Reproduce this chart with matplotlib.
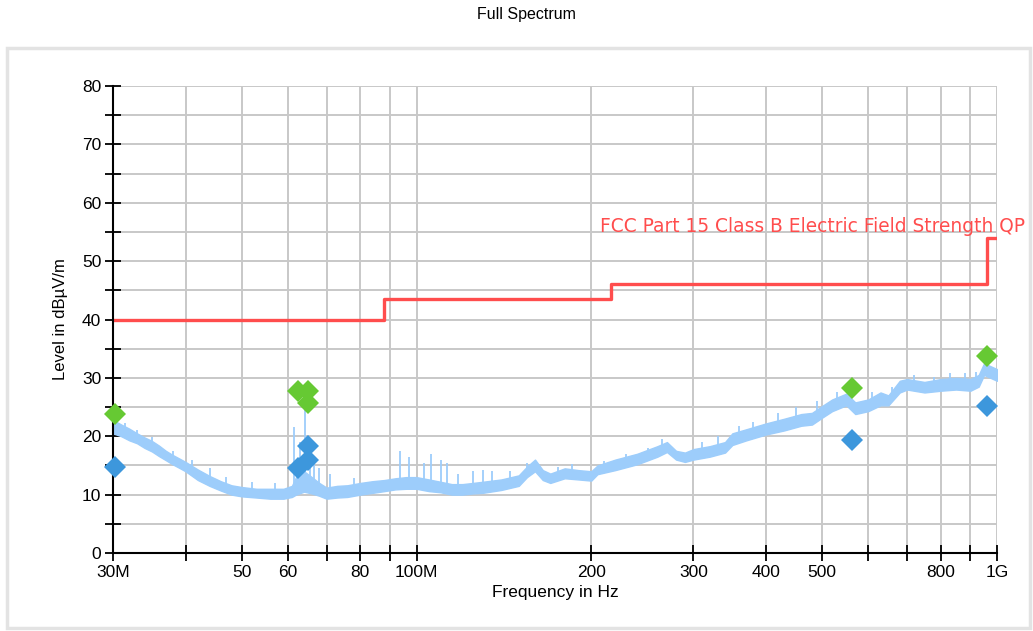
import matplotlib
matplotlib.use("Agg")
import matplotlib.pyplot as plt
from matplotlib.patches import Rectangle
from matplotlib.ticker import FixedLocator, FixedFormatter, NullFormatter

# ---------------- data ----------------
# measured spectrum envelope (MHz, lower edge, upper edge in dBuV/m)
trace_mhz = [30, 31, 32, 33, 34, 35, 36, 37, 38, 39, 40, 42, 44, 46, 48, 50, 53, 56, 59,
             61, 62, 64, 66, 68, 70, 73, 76, 80, 84, 88, 92, 96, 100, 105, 110, 115, 120,
             125, 130, 140, 150, 155, 160, 165, 170, 180, 190, 200, 205, 220, 240, 260,
             270, 280, 290, 300, 320, 340, 350, 370, 400, 430, 460, 480, 500, 520, 550,
             570, 600, 630, 650, 680, 700, 750, 800, 850, 900, 930, 950, 1000]
trace_low = [20.5, 20.0, 19.3, 18.8, 18.0, 17.4, 16.6, 15.9, 15.2, 14.6, 14.0, 12.5, 11.5,
             10.7, 10.0, 9.7, 9.5, 9.3, 9.3, 9.6, 10.0, 10.5, 10.2, 9.8, 9.3, 9.5, 9.6,
             10.0, 10.3, 10.6, 10.9, 11.0, 11.0, 10.6, 10.4, 10.0, 10.0, 10.2, 10.3, 10.8,
             11.5, 13.0, 14.0, 12.5, 12.0, 12.8, 12.6, 12.4, 13.5, 14.2, 15.2, 16.5, 17.3,
             16.0, 15.6, 16.0, 16.5, 17.2, 18.5, 19.3, 20.3, 21.0, 21.8, 22.0, 23.2, 24.3,
             25.3, 23.8, 24.3, 25.3, 25.3, 27.5, 28.0, 27.5, 27.8, 28.0, 27.8, 28.5, 30.5,
             29.5]
trace_high = [22.8, 22.0, 21.3, 20.5, 19.8, 19.2, 18.4, 17.5, 16.8, 16.2, 15.6, 14.3, 13.2,
              12.3, 11.6, 11.3, 11.0, 11.0, 11.0, 11.5, 13.0, 14.0, 13.0, 12.0, 11.2, 11.5,
              11.6, 12.0, 12.3, 12.5, 12.8, 13.0, 13.0, 12.6, 12.2, 11.8, 11.8, 12.0, 12.2,
              12.6, 13.3, 14.8, 16.0, 14.2, 13.6, 14.5, 14.2, 14.0, 15.0, 16.0, 17.0, 18.3,
              19.0, 17.5, 17.2, 17.8, 18.3, 19.0, 20.5, 21.2, 22.2, 23.0, 23.8, 24.0, 25.2,
              26.3, 27.3, 25.8, 26.3, 27.5, 27.0, 29.5, 29.8, 29.3, 29.8, 30.0, 29.8, 30.5,
              32.5, 31.5]
# narrow spikes of the trace (MHz, base, top)
spike_mhz = [31.5, 33, 35, 38, 41, 44, 47, 52, 57, 61.5, 63, 64.2, 65.5, 66.5, 68, 71, 78,
             93.5, 97, 103, 106, 110, 113, 118, 125, 130, 135, 145, 155, 175, 185, 210,
             230, 250, 265, 310, 330, 360, 380, 420, 450, 490, 530, 610, 660, 720, 780,
             830, 880, 920]
spike_base = [21.0, 20.0, 18.0, 16.0, 14.0, 12.5, 11.0, 10.5, 10.5, 10.5, 11.0, 11.0, 11.0,
              11.0, 10.5, 10.0, 11.0, 11.5, 11.5, 11.5, 11.0, 11.0, 10.5, 11.0, 11.0, 11.0,
              11.0, 12.0, 13.5, 13.0, 13.5, 14.0, 15.0, 16.0, 17.5, 17.0, 18.0, 19.5,
              20.5, 22.0, 23.0, 24.0, 25.5, 25.5, 26.0, 28.5, 28.5, 29.0, 29.0, 29.5]
spike_top = [22.3, 21.0, 19.8, 17.5, 16.0, 14.5, 13.0, 12.2, 12.0, 21.5, 19.0, 25.5, 17.5,
             16.5, 14.5, 13.5, 12.8, 17.5, 16.5, 15.5, 17.0, 16.0, 15.5, 13.5, 14.0, 14.3,
             14.0, 14.0, 15.5, 14.8, 15.3, 15.8, 17.0, 18.0, 19.5, 19.0, 20.0, 21.8, 22.5,
             24.0, 25.0, 26.0, 27.5, 27.5, 28.5, 30.5, 30.2, 30.8, 30.8, 31.0]

# limit line (MHz, dBuV/m)
limit_mhz = [30, 88, 216, 960, 1000]
limit_level = [40, 43.5, 46, 54, 54]
limit_name = "FCC Part 15 Class B Electric Field Strength QP"

# final measurement results
qp_mhz = [30.2, 62.5, 64.9, 64.9, 562, 961]
qp_level = [23.8, 27.7, 27.7, 25.7, 28.3, 33.8]
av_mhz = [30.2, 62.5, 64.9, 64.9, 562, 961]
av_level = [14.8, 14.6, 15.9, 18.4, 19.4, 25.2]

xtick_mhz = [30, 40, 50, 60, 70, 80, 90, 100, 200, 300, 400, 500, 600, 700, 800, 900, 1000]
xtick_labels = ["30M", "", "50", "60", "", "80", "", "100M", "200", "300", "400", "500",
                "", "", "800", "", "1G"]
ytick_major = [0, 10, 20, 30, 40, 50, 60, 70, 80]
ytick_minor = [5, 15, 25, 35, 45, 55, 65, 75]

title = "Full Spectrum"
xlabel = "Frequency in Hz"
ylabel = "Level in dBµV/m"

# ---------------- style ----------------
plt.rcParams["font.family"] = ["Liberation Sans", "DejaVu Sans"]

M = 1e6
fig = plt.figure(figsize=(10.33, 6.31), dpi=100)
fig.patches.append(Rectangle((7 / 1033, 1 - 628 / 631), (1030 - 7) / 1033, (628 - 48) / 631,
                             transform=fig.transFigure, fill=False, edgecolor="#e3e3e3",
                             linewidth=2.5, zorder=0))
fig.text(526 / 1033, 1 - 15 / 631, title, ha="center", va="center", fontsize=11.5)

ax = fig.add_axes([113 / 1033, 1 - 553 / 631, (997 - 113) / 1033, (553 - 86) / 631])
ax.set_xscale("log")
ax.set_xlim(30 * M, 1000 * M)
ax.set_ylim(0, 80)

trace_c = "#9dcdfb"
ax.fill_between([f * M for f in trace_mhz], trace_low, trace_high, color=trace_c,
                linewidth=1.0, edgecolor=trace_c, zorder=3)
ax.vlines([f * M for f in spike_mhz], spike_base, spike_top, color=trace_c, linewidth=1.3,
          zorder=3)

ax.step([f * M for f in limit_mhz], limit_level, where="post", color="#ff4d4d",
        linewidth=2.4, zorder=4)
ax.annotate(limit_name, xy=(1000 * M, 54), xytext=(28, 2), textcoords="offset pixels",
            ha="right", va="bottom", color="#ff4d4d", fontsize=13.4,
            family=["DejaVu Sans"], annotation_clip=False)

ax.plot([f * M for f in qp_mhz], qp_level, linestyle="none", marker="D", markersize=11.5,
        color="#66c933", markeredgewidth=0, zorder=6, clip_on=False)
ax.plot([f * M for f in av_mhz], av_level, linestyle="none", marker="D", markersize=11.5,
        color="#3d97dc", markeredgewidth=0, zorder=6, clip_on=False)

ax.xaxis.set_major_locator(FixedLocator([f * M for f in xtick_mhz]))
ax.xaxis.set_major_formatter(FixedFormatter(xtick_labels))
ax.xaxis.set_minor_locator(FixedLocator([]))
ax.xaxis.set_minor_formatter(NullFormatter())
ax.yaxis.set_major_locator(FixedLocator(ytick_major))
ax.yaxis.set_minor_locator(FixedLocator(ytick_minor))

ax.grid(True, which="both", color="#c8c8c8", linewidth=1.4, zorder=1)
ax.set_axisbelow(True)
for s in ("top", "right"):
    ax.spines[s].set_visible(False)
for s in ("left", "bottom"):
    ax.spines[s].set_linewidth(1.5)
    ax.spines[s].set_zorder(5)
ax.tick_params(which="major", direction="inout", length=11, width=1.3, labelsize=12.5,
               pad=3)
ax.tick_params(which="minor", direction="inout", length=11, width=1.3)

ax.set_xlabel(xlabel, fontsize=12.5, labelpad=4)
ax.set_ylabel(ylabel, fontsize=12, labelpad=10)

fig.savefig("out.png", dpi=100, facecolor="white")
